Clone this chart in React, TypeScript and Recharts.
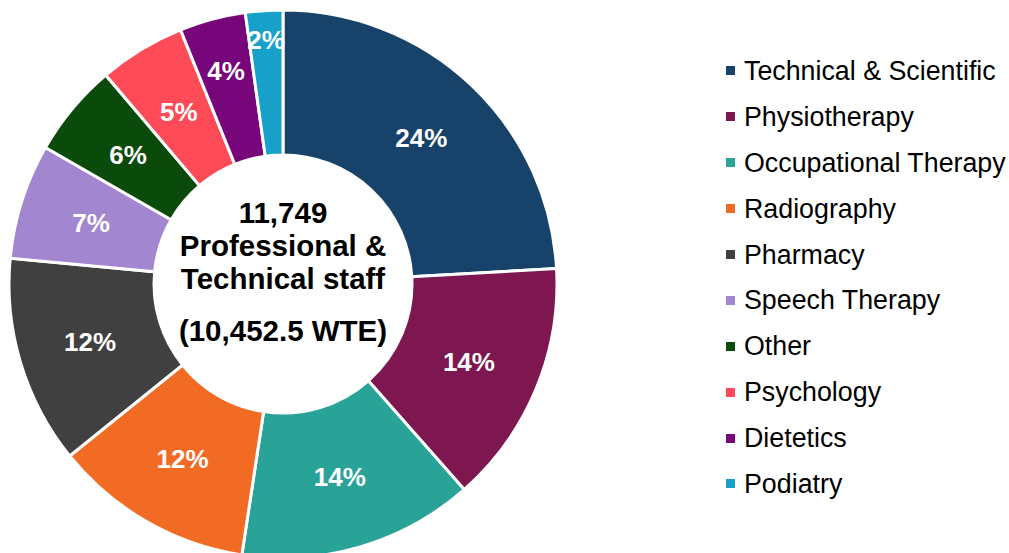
import { PieChart, Pie, Cell, Legend, Label } from "recharts";

const categories = [
  "Technical & Scientific",
  "Physiotherapy",
  "Occupational Therapy",
  "Radiography",
  "Pharmacy",
  "Speech Therapy",
  "Other",
  "Psychology",
  "Dietetics",
  "Podiatry",
];
// shares; labels show them rounded
const shares = [24.1, 14.4, 13.9, 11.8, 12.3, 6.8, 5.5, 5.1, 3.9, 2.2];
const colors = ["#17436b", "#7e1650", "#29a398", "#f26b25", "#404040", "#a286d0", "#0a4a0a", "#ff4b58", "#77067a", "#16a0ca"];
const centerLines = ["11,749", "Professional &", "Technical staff", "(10,452.5 WTE)"];

const data = categories.map((name, i) => ({ name, value: shares[i] }));

const FONT = "'Liberation Sans', Arial, sans-serif";
const RAD = Math.PI / 180;
// small slices get pushed outward, like Excel's best-fit labels
const labelNudge: Record<string, number> = { Dietetics: 19, Podiatry: 43 };

const renderLabel = (props: any) => {
  const { cx, cy, midAngle, innerRadius, outerRadius, value, name } = props;
  const r = (innerRadius + outerRadius) / 2 + (labelNudge[name] || 0);
  const x = cx + r * Math.cos(-midAngle * RAD);
  const y = cy + r * Math.sin(-midAngle * RAD);
  return (
    <text x={x} y={y} fill="#fff" textAnchor="middle" dominantBaseline="central" fontFamily={FONT} fontWeight="bold" fontSize={26}>
      {`${Math.round(value)}%`}
    </text>
  );
};

const renderCenter = (props: any) => {
  const vb = props.viewBox || {};
  const cx = vb.cx ?? 283;
  const cy = vb.cy ?? 284;
  const offsets = [-72, -39, -6, 46];
  return (
    <g>
      {centerLines.map((t, i) => (
        <text key={t} x={cx} y={cy + offsets[i]} textAnchor="middle" dominantBaseline="central" fontFamily={FONT} fontWeight="bold" fontSize={29.5} fill="#000">
          {t}
        </text>
      ))}
    </g>
  );
};

const renderLegend = () => (
  <div style={{ fontFamily: FONT, fontSize: 26.8, color: "#000" }}>
    {categories.map((c, i) => (
      <div key={c} style={{ display: "flex", alignItems: "center", height: 45.9 }}>
        <span style={{ display: "inline-block", width: 9, height: 9, background: colors[i], marginRight: 9 }} />
        <span style={{ lineHeight: "30px", whiteSpace: "nowrap" }}>{c}</span>
      </div>
    ))}
  </div>
);

export default function App() {
  return (
    <div style={{ position: "absolute", left: 0, top: 0, width: 1009, height: 553, background: "#fff" }}>
      <PieChart width={1009} height={553} margin={{ top: 0, right: 0, bottom: 0, left: 0 }}>
        <Pie
          data={data}
          dataKey="value"
          nameKey="name"
          cx={283}
          cy={284}
          innerRadius={129}
          outerRadius={274}
          startAngle={90}
          endAngle={-270}
          stroke="#fff"
          strokeWidth={3}
          label={renderLabel}
          labelLine={false}
          isAnimationActive={false}
        >
          {data.map((d, i) => (
            <Cell key={d.name} fill={colors[i]} />
          ))}
          <Label position="center" content={renderCenter} />
        </Pie>
        <Legend
          layout="vertical"
          align="right"
          verticalAlign="top"
          content={renderLegend}
          wrapperStyle={{ position: "absolute", left: 726, top: 48, width: 290 }}
        />
      </PieChart>
    </div>
  );
}
